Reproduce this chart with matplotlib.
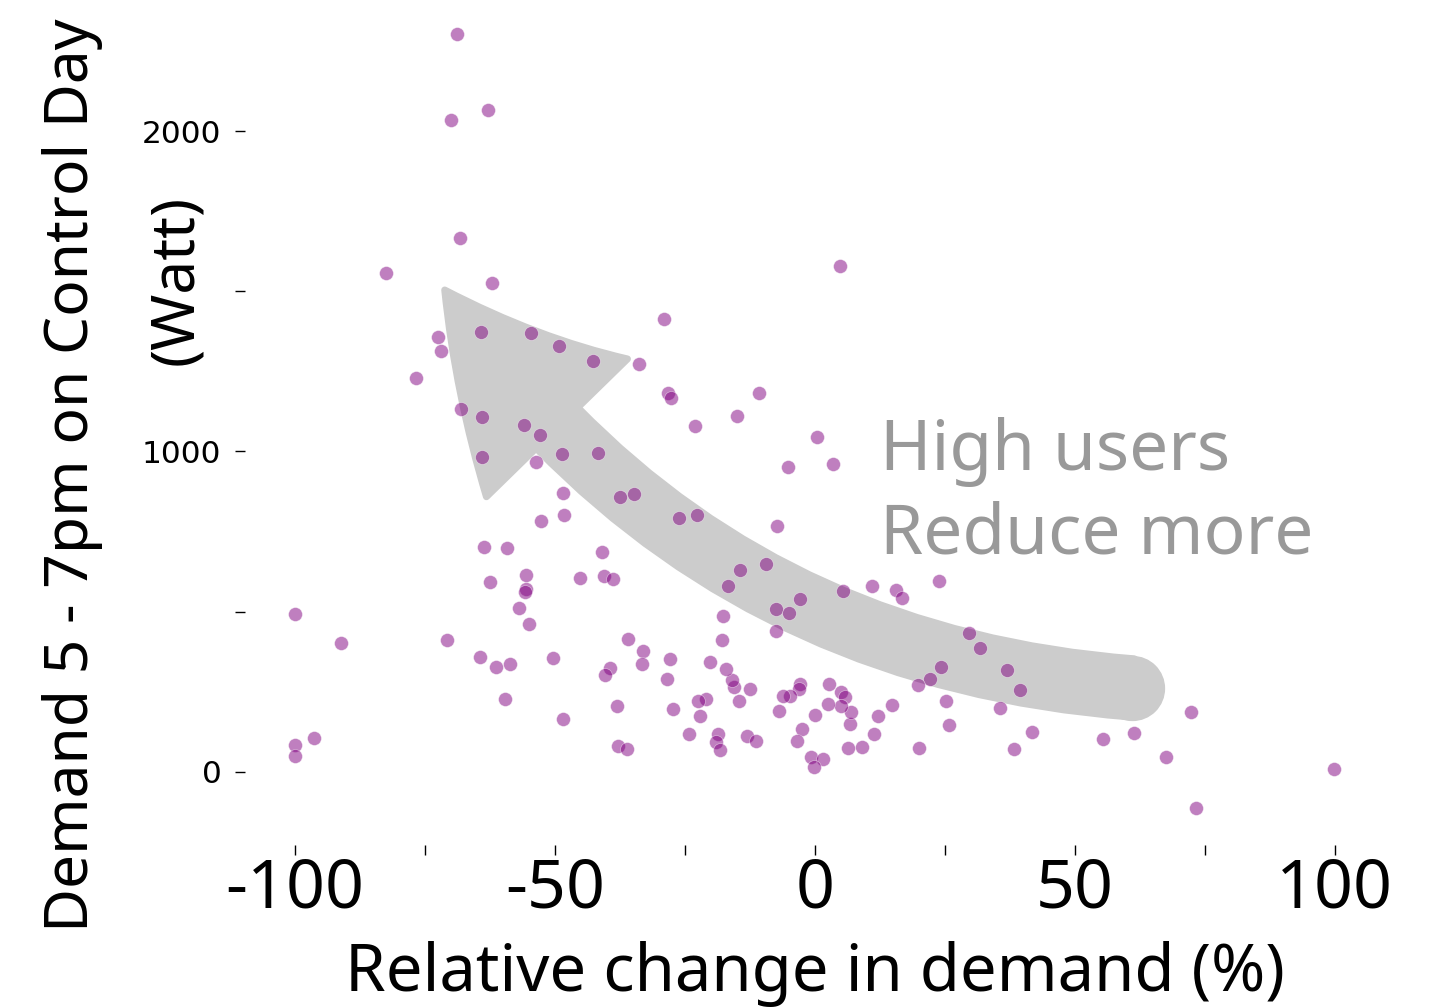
import matplotlib
matplotlib.use("Agg")
import matplotlib.pyplot as plt
from matplotlib.patches import FancyArrowPatch, ArrowStyle

plt.rcParams['axes.unicode_minus'] = False

# relative change in demand (%) per household
change = [-68.8, -70.0, -62.9, -68.3, -82.5, -62.1, -29.0, -72.5, -71.9, -76.7,
          -64.2, -54.6, -49.2, -42.7, -33.8, -68.1, -64.0, -56.0, -52.9, -64.0,
          -53.7, -48.7, -41.7, -48.5, -37.5, -34.8, -48.3, -52.7, -28.3, -27.7,
          -63.7, -59.2, -41.0, -55.6, -62.5, -45.2, -40.6, -38.8, -55.6, -55.8,
          -56.9, -55.0, -100.0, -91.2, -70.8, -64.4, -61.3, -58.7, -50.4, -59.6,
          -48.5, -36.0, -33.1, -33.3, -39.4, -40.4, -38.1, -37.9, -36.2, -100.0,
          -100.0, -96.3, -27.9, -28.5, -27.3, 4.8, -10.8, -15.0, -23.1, 0.4,
          -5.2, 3.5, -26.2, -22.7, -7.3, -14.4, -9.4, -16.7, -17.7, -17.9,
          -7.5, -5.0, -2.9, -7.5, 5.4, 11.0, 15.6, 16.7, 23.8, 29.6,
          31.7, 24.2, 22.1, 19.8, 36.9, 39.4, 25.2, 25.8, 35.6, 41.7,
          38.3, 20.0, 14.8, 12.1, 11.3, 9.0, 6.3, 6.7, 6.9, 5.0,
          5.8, 5.0, 2.7, 2.5, 0.0, -2.5, -3.5, -0.8, 1.5, -0.2,
          -2.9, -3.1, -4.8, -6.2, -6.9, -12.5, -14.6, -15.6, -16.0, -17.1,
          -20.2, -21.0, -22.5, -22.1, -24.2, -18.7, -19.0, -18.3, -13.1, -11.3,
          55.4, 61.3, 72.3, 67.5, 73.3, 99.8]

# demand 5-7pm on control day (W)
demand = [2303, 2034, 2066, 1666, 1557, 1526, 1413, 1357, 1314, 1229,
          1373, 1370, 1329, 1282, 1273, 1133, 1108, 1083, 1052, 983,
          967, 992, 995, 871, 858, 867, 802, 783, 1183, 1167,
          702, 699, 686, 615, 593, 605, 612, 602, 571, 562,
          512, 462, 493, 402, 412, 359, 328, 337, 356, 228,
          165, 415, 378, 337, 325, 303, 206, 81, 72, 84,
          50, 106, 353, 290, 197, 1579, 1183, 1111, 1080, 1045,
          952, 961, 793, 802, 768, 630, 649, 580, 487, 412,
          509, 496, 540, 440, 565, 580, 568, 543, 596, 434,
          387, 328, 290, 271, 318, 256, 222, 147, 200, 125,
          72, 75, 209, 175, 119, 78, 75, 150, 187, 250,
          234, 206, 275, 212, 178, 134, 97, 47, 41, 16,
          275, 259, 237, 237, 190, 259, 222, 265, 287, 321,
          343, 228, 222, 175, 119, 119, 94, 69, 112, 97,
          103, 122, 187, 47, -112, 9]

xticks = [-100, -75, -50, -25, 0, 25, 50, 75, 100]
xticklabels = ['-100', '', '-50', '', '0', '', '50', '', '100']
yticks = [0, 500, 1000, 1500, 2000]
yticklabels = ['0', '', '1000', '', '2000']

# arrow from low users (tail) to high users (tip), data coords
arrow_tail = (61.0, 262)
arrow_tip = (-71.2, 1504)

fig = plt.figure(figsize=(14.5, 10.07), dpi=100)
ax = fig.add_axes([0.169, 0.161, 0.786, 0.824])

grey = '#cccccc'
arr = FancyArrowPatch(arrow_tail, arrow_tip,
                      arrowstyle=ArrowStyle('Simple', head_length=128,
                                            head_width=142, tail_width=42),
                      connectionstyle='arc3,rad=-0.24', mutation_scale=1,
                      shrinkA=0, shrinkB=0, fc=grey, ec=grey, lw=5,
                      joinstyle='round', zorder=1)
ax.add_patch(arr)
ax.plot([arrow_tail[0]], [arrow_tail[1]], 'o', ms=46, color=grey, mec=grey, zorder=1)

ax.scatter(change, demand, s=100, c='purple', alpha=0.5,
           edgecolors='white', linewidths=0.5, zorder=3)

ax.set_xlim(-109.6, 109.6)
ax.set_ylim(-228, 2362)

for s in ax.spines.values():
    s.set_visible(False)

ax.set_xticks(xticks)
ax.set_xticklabels(xticklabels, family='Noto Sans', fontsize=49)
ax.set_yticks(yticks)
ax.set_yticklabels(yticklabels, family='DejaVu Sans', fontsize=22.5)
ax.tick_params(axis='x', length=7, width=1, pad=1)
ax.tick_params(axis='y', length=7, width=1, pad=10)

ax.set_xlabel('Relative change in demand (%)', family='Noto Sans', fontsize=47, labelpad=12)

fig.text(0.05, 0.528, 'Demand 5 - 7pm on Control Day', family='Noto Sans',
         fontsize=43.5, rotation=90, ha='center', va='center')
fig.text(0.122, 0.722, '(Watt)', family='Noto Sans',
         fontsize=43.5, rotation=90, ha='center', va='center')

ax.text(0.5575, 0.5155, 'High users\nReduce more', transform=ax.transAxes,
        family='Noto Sans', fontweight='light', fontsize=50, color='#999999',
        ha='left', va='top', linespacing=1.26)

fig.savefig('out.png', dpi=100)
